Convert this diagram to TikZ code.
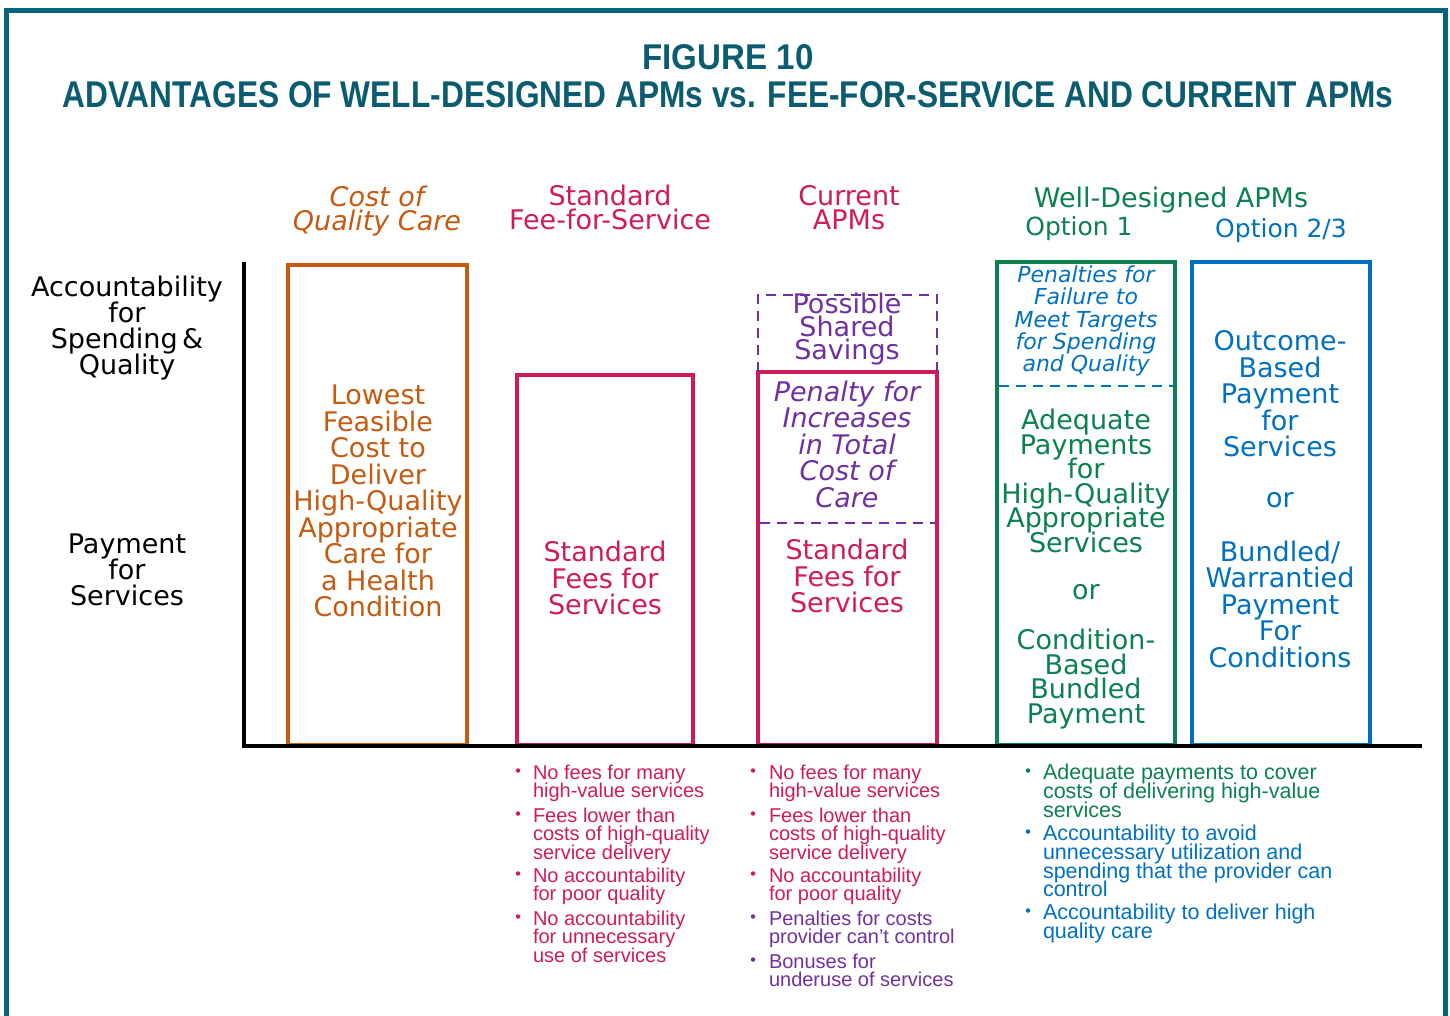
\documentclass[tikz,border=0pt]{standalone}
\usepackage{fontspec}
\usepackage{graphicx}
\setmainfont{DejaVu Sans}
\newfontfamily\arialfont{Liberation Sans}

\definecolor{frame}{HTML}{07647A}
\definecolor{titleteal}{HTML}{0B5C70}
\definecolor{costor}{HTML}{C55A11}
\definecolor{ffs}{HTML}{D01B5B}
\definecolor{apmpurp}{HTML}{7030A0}
\definecolor{wdgreen}{HTML}{0B8050}
\definecolor{wdblue}{HTML}{0070C0}

% fixed line pitch even where lines touch
\newcommand{\tightlines}{\lineskiplimit=-100pt\lineskip=0pt}

\tikzset{
  lab/.style={align=center, inner sep=0pt, outer sep=0pt},
  big/.style={lab, font=\fontsize{27}{26.5}\selectfont\tightlines},
  bigit/.style={lab, font=\itshape\fontsize{27}{26.5}\selectfont\tightlines},
  headtxt/.style={lab, font=\fontsize{27}{24.5}\selectfont\tightlines},
  chartbox/.style={draw, rectangle, line width=4pt, outer sep=0pt, inner sep=0pt, anchor=north west},
  divider/.style={line width=2.6pt, dash pattern=on 10pt off 7pt},
  bul/.style={inner sep=0pt, outer sep=0pt, align=left, anchor=north west, font=\arialfont\fontsize{20}{18.5}\selectfont\tightlines},
  bulw/.style={bul, font=\arialfont\fontsize{21.5}{18.8}\selectfont\tightlines},
  dot/.style={circle, fill, inner sep=0pt, minimum size=4.5pt},
  titlestyle/.style={inner sep=0pt, outer sep=0pt, text=titleteal, font=\arialfont\bfseries\fontsize{36}{40}\selectfont}
}

\begin{document}
\begin{tikzpicture}[x=1pt,y=-1pt]
\useasboundingbox (0,0) rectangle (1450,1015);

% frame, open at the bottom
\draw[frame, line width=5.5pt] (6.5,1020) -- (6.5,10.5) -- (1445.5,10.5) -- (1445.5,1020);

% title
\node[titlestyle] (fig) at (728,57) {\resizebox{171pt}{25pt}{FIGURE 10}};
\node[titlestyle] (ttl) at (728,94.5) {\resizebox{1331pt}{26pt}{ADVANTAGES OF WELL-DESIGNED APMs vs. FEE-FOR-SERVICE AND CURRENT APMs}};

% column headers
\node[lab, text=costor, font=\itshape\fontsize{27}{24}\selectfont\tightlines] (hcost) at (377,211) {Cost of\\Quality Care};
\node[lab, text=ffs, font=\fontsize{27}{24}\selectfont\tightlines] (hffs) at (610,207) {Standard\\Fee-for-Service};
\node[headtxt, text=ffs] (hcur) at (849,207.5) {Current\\APMs};
\node[lab, text=wdgreen, font=\fontsize{27}{27}\selectfont] (hwd) at (1171,199.7) {Well-Designed APMs};
\node[lab, text=wdgreen, font=\fontsize{25}{25}\selectfont] (hopt1) at (1079,228.5) {Option 1};
\node[lab, text=wdblue, font=\fontsize{25}{25}\selectfont] (hopt2) at (1281,231) {Option 2/3};

% row labels
\node[lab, font=\fontsize{27}{26.3}\selectfont\tightlines] (racc) at (127,328) {Accountability\\for\\Spending\,\&\\Quality};
\node[lab, font=\fontsize{27}{26.3}\selectfont\tightlines] (rpay) at (127,570) {Payment\\for\\Services};

% columns
\node[chartbox, draw=costor, minimum width=179pt, minimum height=480pt] (box1) at (288,265) {};
\node[chartbox, draw=ffs, minimum width=176pt, minimum height=370pt] (box2) at (517,375) {};
\node[chartbox, draw=ffs, minimum width=179pt, minimum height=373pt] (box3) at (758,372) {};
\node[chartbox, draw=wdgreen, minimum width=178pt, minimum height=483pt] (box4) at (997,262) {};
\node[chartbox, draw=wdblue, minimum width=178pt, minimum height=483pt] (box5) at (1192,262) {};

% shared-savings cap above the current APM column
\coordinate (sv1) at (758,295);
\coordinate (sv2) at (937,295);
\draw[apmpurp, divider] (box3.north west) -- (sv1) -- (sv2) -- (box3.north east);

% dashed dividers inside columns
\coordinate (d3a) at (760,523);
\coordinate (d3b) at (935,523);
\draw[apmpurp, divider] (d3a) -- (d3b);
\coordinate (d4a) at (999,386);
\coordinate (d4b) at (1174,386);
\draw[wdblue, divider] (d4a) -- (d4b);

% column texts
\node[big, text=costor] (t1) at (378,501) {Lowest\\Feasible\\Cost to\\Deliver\\High-Quality\\Appropriate\\Care for\\a Health\\Condition};
\node[big, text=ffs] (t2) at (605,578) {Standard\\Fees for\\Services};
\node[lab, text=apmpurp, font=\fontsize{27}{23}\selectfont\tightlines] (t3a) at (847,329) {Possible\\Shared\\Savings};
\node[bigit, text=apmpurp] (t3b) at (847,444) {Penalty for\\Increases\\in Total\\Cost of\\Care};
\node[big, text=ffs] (t3c) at (847,576) {Standard\\Fees for\\Services};
\node[lab, text=wdblue, font=\itshape\fontsize{22}{22.3}\selectfont\tightlines] (t4a) at (1086,321) {Penalties for\\Failure to\\Meet Targets\\for Spending\\and Quality};
\node[lab, text=wdgreen, font=\fontsize{27}{24.6}\selectfont\tightlines] (t4b) at (1086,481) {Adequate\\Payments\\for\\High-Quality\\Appropriate\\Services};
\node[big, text=wdgreen] (t4c) at (1086,592) {or};
\node[lab, text=wdgreen, font=\fontsize{27}{24.4}\selectfont\tightlines] (t4d) at (1086,679) {Condition-\\Based\\Bundled\\Payment};
\node[big, text=wdblue] (t5a) at (1280,394) {Outcome-\\Based\\Payment\\for\\Services};
\node[big, text=wdblue] (t5b) at (1280,500) {or};
\node[big, text=wdblue] (t5c) at (1280,604) {Bundled/\\Warrantied\\Payment\\For\\Conditions};

% axes
\coordinate (ytop) at (244,262);
\coordinate (orig) at (244,746);
\coordinate (xend) at (1422,746);
\draw[line width=4.5pt] (ytop) -- (orig) -- (xend);

% bullet notes: fee-for-service
\node[dot, ffs] (p2a) at (518,770.5) {};
\node[bul, text=ffs] (n2a) at (533,764.6) {No fees for many\\high-value services};
\node[dot, ffs] (p2b) at (518,813.5) {};
\node[bul, text=ffs] (n2b) at (533,807.6) {Fees lower than\\costs of high-quality\\service delivery};
\node[dot, ffs] (p2c) at (518,873.5) {};
\node[bul, text=ffs] (n2c) at (533,867.6) {No accountability\\for poor quality};
\node[dot, ffs] (p2d) at (518,916.5) {};
\node[bul, text=ffs] (n2d) at (533,910.6) {No accountability\\for unnecessary\\use of services};

% bullet notes: current APMs
\node[dot, ffs] (p3a) at (753,770.5) {};
\node[bul, text=ffs] (n3a) at (769,764.6) {No fees for many\\high-value services};
\node[dot, ffs] (p3b) at (753,813.5) {};
\node[bul, text=ffs] (n3b) at (769,807.6) {Fees lower than\\costs of high-quality\\service delivery};
\node[dot, ffs] (p3c) at (753,873.5) {};
\node[bul, text=ffs] (n3c) at (769,867.6) {No accountability\\for poor quality};
\node[dot, apmpurp] (p3d) at (753,916.5) {};
\node[bul, text=apmpurp] (n3d) at (769,910.6) {Penalties for costs\\provider can’t control};
\node[dot, apmpurp] (p3e) at (753,959.5) {};
\node[bul, text=apmpurp] (n3e) at (769,953.6) {Bonuses for\\underuse of services};

% bullet notes: well-designed APMs
\node[dot, wdgreen] (p4a) at (1028,770.5) {};
\node[bulw, text=wdgreen] (n4a) at (1043,764) {Adequate payments to cover\\costs of delivering high-value\\services};
\node[dot, wdblue] (p4b) at (1028,831.5) {};
\node[bulw, text=wdblue] (n4b) at (1043,825) {Accountability to avoid\\unnecessary utilization and\\spending that the provider can\\control};
\node[dot, wdblue] (p4c) at (1028,910.5) {};
\node[bulw, text=wdblue] (n4c) at (1043,904) {Accountability to deliver high\\quality care};

\end{tikzpicture}
\end{document}
